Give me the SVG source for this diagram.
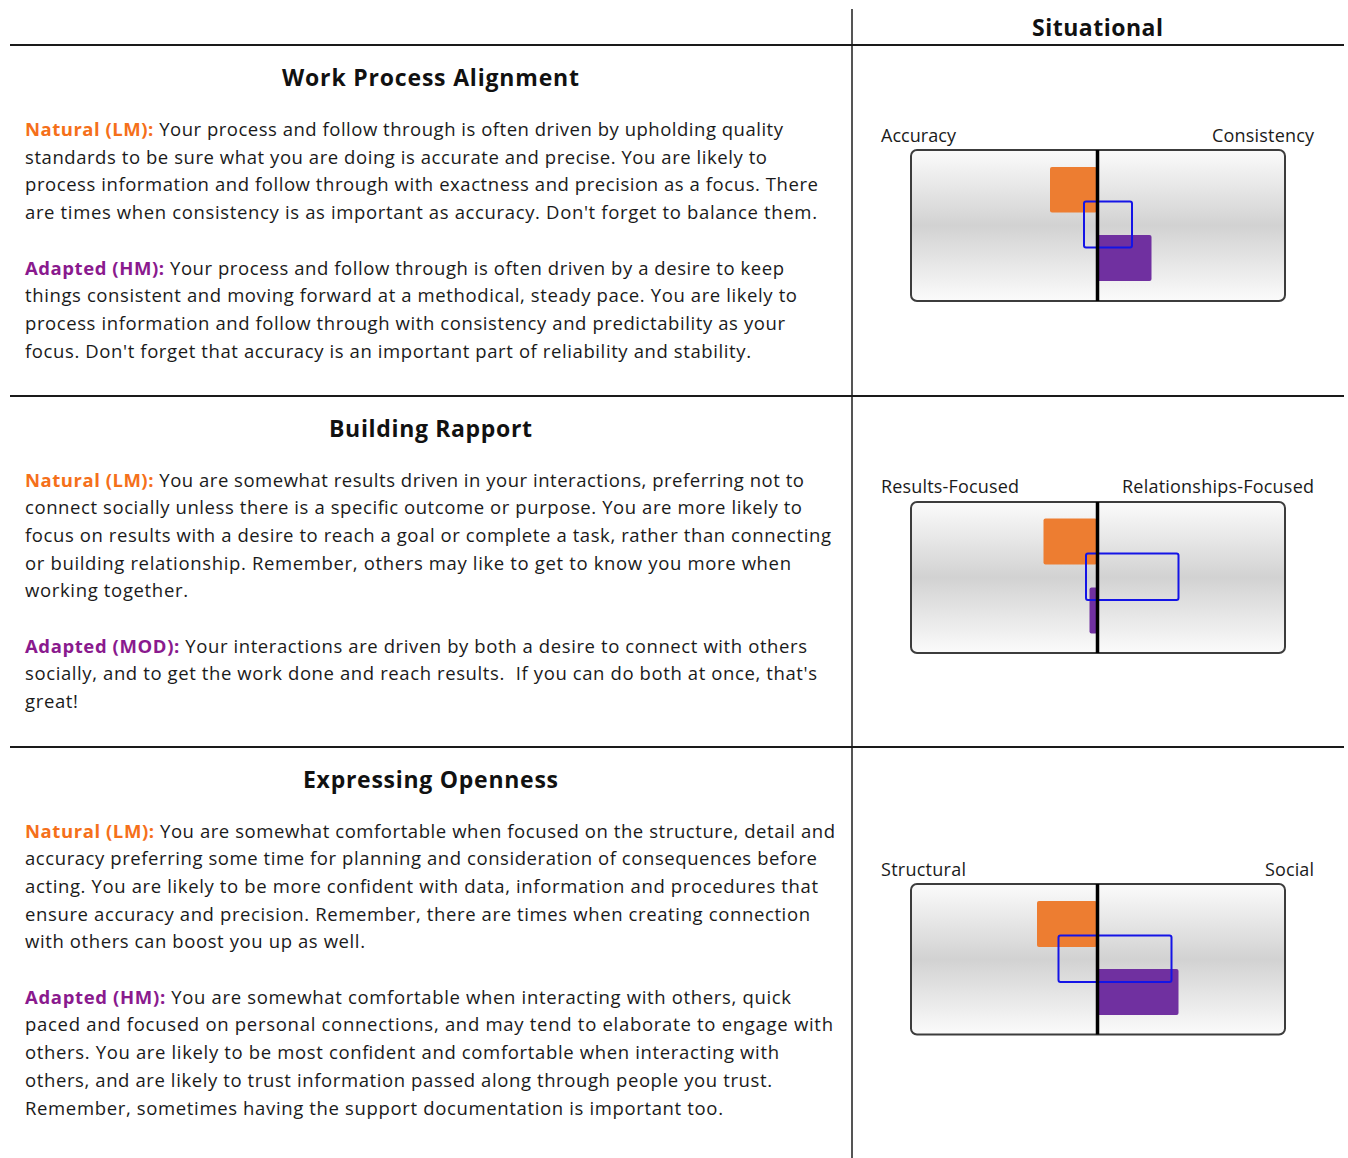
<svg xmlns="http://www.w3.org/2000/svg" width="1348" height="1158" viewBox="0 0 1348 1158">
<style>
.t{font-family:"Open Sans","Liberation Sans",sans-serif;font-size:18.5px;fill:#1a1a1a}
.n{fill:#f5701a;font-weight:bold}
.a{fill:#8a1a8e;font-weight:bold}
.h{font-family:"Open Sans","Liberation Sans",sans-serif;font-size:23px;font-weight:bold;fill:#111;text-anchor:middle}
.l{font-family:"Open Sans","Liberation Sans",sans-serif;font-size:18px;fill:#1a1a1a}
.le{text-anchor:end}
.box{fill:url(#g);stroke:#3c3c3c;stroke-width:2}
.mid{stroke:#000;stroke-width:3.5}
.or{fill:#ed7d31}
.pu{fill:#7030a0}
.bl{fill:none;stroke:#1414e6;stroke-width:2}
.hl{stroke:#1a1a1a;stroke-width:2}
.vl{stroke:#555;stroke-width:2}
</style>
<defs>
<linearGradient id="g" x1="0" y1="0" x2="0" y2="1">
<stop offset="0" stop-color="#fbfbfb"/>
<stop offset="0.5" stop-color="#d2d2d2"/>
<stop offset="1" stop-color="#fbfbfb"/>
</linearGradient>
</defs>
<rect width="1348" height="1158" fill="#fff"/>
<g id="grid">
<line class="vl" x1="852" y1="9" x2="852" y2="1158"/>
<line class="hl" x1="10" y1="45" x2="1344" y2="45"/>
<line class="hl" x1="10" y1="396" x2="1344" y2="396"/>
<line class="hl" x1="10" y1="747" x2="1344" y2="747"/>
</g>
<g id="header">
<text class="h" x="1097.5" y="36" textLength="131">Situational</text>
</g>
<g id="section-work-process">
<text class="h" x="430.5" y="86" textLength="297">Work Process Alignment</text>
<text class="t" x="25" y="136" textLength="758"><tspan class="n">Natural (LM):</tspan> Your process and follow through is often driven by upholding quality</text>
<text class="t" x="25" y="163.7" textLength="742">standards to be sure what you are doing is accurate and precise. You are likely to</text>
<text class="t" x="25" y="191.4" textLength="793">process information and follow through with exactness and precision as a focus. There</text>
<text class="t" x="25" y="219.1" textLength="792">are times when consistency is as important as accuracy. Don't forget to balance them.</text>
<text class="t" x="25" y="274.5" textLength="759"><tspan class="a">Adapted (HM):</tspan> Your process and follow through is often driven by a desire to keep</text>
<text class="t" x="25" y="302.2" textLength="772">things consistent and moving forward at a methodical, steady pace. You are likely to</text>
<text class="t" x="25" y="329.9" textLength="760">process information and follow through with consistency and predictability as your</text>
<text class="t" x="25" y="357.6" textLength="726">focus. Don't forget that accuracy is an important part of reliability and stability.</text>
</g>
<g id="chart-work-process">
<text class="l" x="881" y="142" textLength="75">Accuracy</text>
<text class="l le" x="1314" y="142" textLength="102">Consistency</text>
<rect class="box" x="911" y="150" width="374" height="151" rx="6"/>
<rect class="or" x="1050" y="167" width="47" height="45.5" rx="2"/>
<rect class="pu" x="1097" y="235" width="54.5" height="46" rx="2"/>
<rect class="bl" x="1084" y="201.5" width="48" height="46" rx="2"/>
<line class="mid" x1="1097.5" y1="150" x2="1097.5" y2="301"/>
</g>
<g id="section-building-rapport">
<text class="h" x="430.5" y="437" textLength="203">Building Rapport</text>
<text class="t" x="25" y="486.5" textLength="779"><tspan class="n">Natural (LM):</tspan> You are somewhat results driven in your interactions, preferring not to</text>
<text class="t" x="25" y="514.2" textLength="777">connect socially unless there is a specific outcome or purpose. You are more likely to</text>
<text class="t" x="25" y="541.9" textLength="806">focus on results with a desire to reach a goal or complete a task, rather than connecting</text>
<text class="t" x="25" y="569.6" textLength="766">or building relationship. Remember, others may like to get to know you more when</text>
<text class="t" x="25" y="597.3" textLength="163">working together.</text>
<text class="t" x="25" y="652.7" textLength="782"><tspan class="a">Adapted (MOD):</tspan> Your interactions are driven by both a desire to connect with others</text>
<text class="t" x="25" y="680.4" textLength="792" style="white-space:pre">socially, and to get the work done and reach results.  If you can do both at once, that's</text>
<text class="t" x="25" y="708.1" textLength="53">great!</text>
</g>
<g id="chart-building-rapport">
<text class="l" x="881" y="492.5" textLength="138">Results-Focused</text>
<text class="l le" x="1314" y="492.5" textLength="192">Relationships-Focused</text>
<rect class="box" x="911" y="502" width="374" height="151" rx="6"/>
<rect class="or" x="1043.5" y="518.5" width="53.5" height="46" rx="2"/>
<rect class="pu" x="1089.5" y="587.5" width="8" height="46" rx="2"/>
<rect class="bl" x="1086" y="553.5" width="92.5" height="46.5" rx="2"/>
<line class="mid" x1="1097.5" y1="502" x2="1097.5" y2="653"/>
</g>
<g id="section-expressing-openness">
<text class="h" x="430.5" y="787.5" textLength="255">Expressing Openness</text>
<text class="t" x="25" y="837.5" textLength="810"><tspan class="n">Natural (LM):</tspan> You are somewhat comfortable when focused on the structure, detail and</text>
<text class="t" x="25" y="865.2" textLength="792">accuracy preferring some time for planning and consideration of consequences before</text>
<text class="t" x="25" y="892.9" textLength="793">acting. You are likely to be more confident with data, information and procedures that</text>
<text class="t" x="25" y="920.6" textLength="785">ensure accuracy and precision. Remember, there are times when creating connection</text>
<text class="t" x="25" y="948.3" textLength="340">with others can boost you up as well.</text>
<text class="t" x="25" y="1003.7" textLength="766"><tspan class="a">Adapted (HM):</tspan> You are somewhat comfortable when interacting with others, quick</text>
<text class="t" x="25" y="1031.4" textLength="808">paced and focused on personal connections, and may tend to elaborate to engage with</text>
<text class="t" x="25" y="1059.1" textLength="754">others. You are likely to be most confident and comfortable when interacting with</text>
<text class="t" x="25" y="1086.8" textLength="747">others, and are likely to trust information passed along through people you trust.</text>
<text class="t" x="25" y="1114.5" textLength="698">Remember, sometimes having the support documentation is important too.</text>
</g>
<g id="chart-expressing-openness">
<text class="l" x="881" y="876" textLength="85">Structural</text>
<text class="l le" x="1314" y="876" textLength="49">Social</text>
<rect class="box" x="911" y="884" width="374" height="150.5" rx="6"/>
<rect class="or" x="1037" y="901" width="60" height="46" rx="2"/>
<rect class="pu" x="1097" y="969" width="81.5" height="46" rx="2"/>
<rect class="bl" x="1058.5" y="935.5" width="113" height="46.5" rx="2"/>
<line class="mid" x1="1097.5" y1="884" x2="1097.5" y2="1034.5"/>
</g>
</svg>
